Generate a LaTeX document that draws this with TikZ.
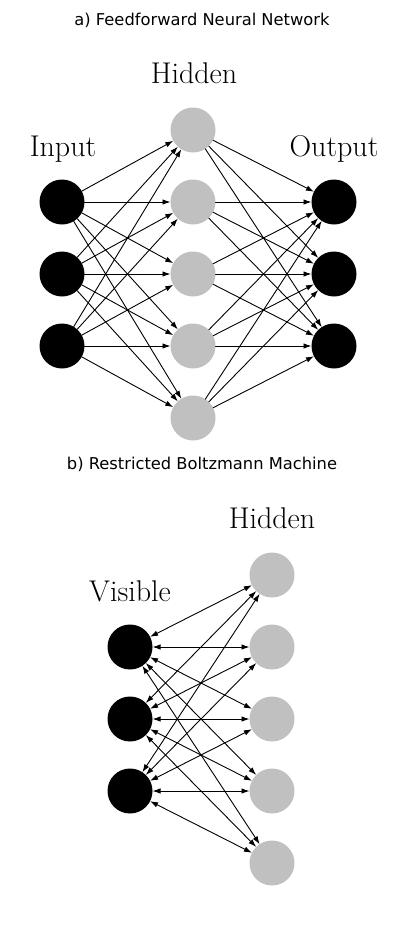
\documentclass[tikz,border=0pt]{standalone}
\usepackage{fontspec}
\newfontfamily\titlefont{DejaVu Sans}
\usetikzlibrary{arrows.meta}
\definecolor{unitgray}{RGB}{192,192,192}

\begin{document}
\begin{tikzpicture}[x=1pt,y=-1pt,line join=round,line cap=round,
	blk/.style={circle,fill=black,minimum size=45pt,inner sep=0,outer sep=0},
	gry/.style={circle,fill=unitgray,minimum size=45pt,inner sep=0,outer sep=0},
	lab/.style={anchor=base,font=\fontsize{30}{34}\selectfont},
	ttl/.style={anchor=base,font=\titlefont\fontsize{16.3}{19}\selectfont},
	fwd/.style={-{Latex[length=8pt,width=5.5pt]},line width=0.9pt},
	both/.style={{Latex[length=8pt,width=5.5pt]}-{Latex[length=8pt,width=5.5pt]},line width=0.9pt}]
	\useasboundingbox (0,0) rectangle (404,926);
	% a) feedforward
	\path (202,25)node[ttl](ta){a) Feedforward Neural Network}
	(194,83)node[lab](lh){Hidden}
	(63,156)node[lab](li){Input}
	(334,156)node[lab](lo){Output};
	\path (62,202)node[blk](i1){}
	++(0,72)node[blk](i2){}
	++(0,72)node[blk](i3){};
	\path (193,130)node[gry](h1){}
	++(0,72)node[gry](h2){}
	++(0,72)node[gry](h3){}
	++(0,72)node[gry](h4){}
	++(0,72)node[gry](h5){};
	\path (334,202)node[blk](o1){}
	++(0,72)node[blk](o2){}
	++(0,72)node[blk](o3){};
	\foreach \i in {1,2,3}
	\foreach \j in {1,...,5}{
		\draw[fwd](i\i)--(h\j);
		\draw[fwd](h\j)--(o\i);
	}
	% b) restricted boltzmann machine
	\path (202,469)node[ttl](tb){b) Restricted Boltzmann Machine}
	(272,528)node[lab](rh){Hidden}
	(130,601)node[lab](rv){Visible};
	\path (130,647)node[blk](v1){}
	++(0,72)node[blk](v2){}
	++(0,72)node[blk](v3){};
	\path (272,575)node[gry](g1){}
	++(0,72)node[gry](g2){}
	++(0,72)node[gry](g3){}
	++(0,72)node[gry](g4){}
	++(0,72)node[gry](g5){};
	\foreach \i in {1,2,3}
	\foreach \j in {1,...,5}
	\draw[both](v\i)--(g\j);
\end{tikzpicture}
\end{document}
